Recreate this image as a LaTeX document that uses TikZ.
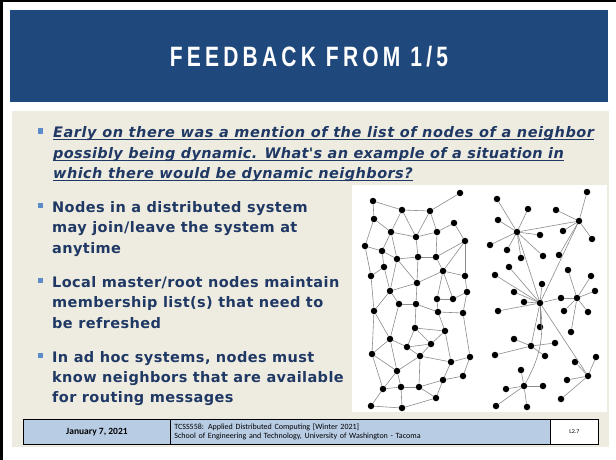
\documentclass[tikz,border=0pt]{standalone}
\usepackage{fontspec}
\setmainfont{Liberation Sans}
\newfontfamily\titlefont{Liberation Sans}[FakeStretch=0.75,LetterSpace=15]
\newfontfamily\bodyfont{DejaVu Sans}[LetterSpace=2.8]
\newfontfamily\askfont{DejaVu Sans}[LetterSpace=3]
\newfontfamily\footfont{Carlito}

\definecolor{banner}{RGB}{31,73,125}
\definecolor{panel}{RGB}{238,236,225}
\definecolor{ink}{RGB}{31,56,100}
\definecolor{bulletblue}{RGB}{91,139,201}
\definecolor{footblue}{RGB}{184,204,228}
\definecolor{edgegray}{RGB}{140,140,140}

\tikzset{
  txt/.style={anchor=base west, inner sep=0pt, text=ink, font=\bodyfont\bfseries\fontsize{14.5}{15}\selectfont},
  ask/.style={txt, font=\askfont\bfseries\itshape\fontsize{14.5}{15}\selectfont},
  uline/.style={ink, line width=1.1pt},
  sq/.style={fill=bulletblue, minimum size=5.5pt, inner sep=0pt},
  netdot/.style={circle, fill=black, inner sep=0pt, minimum size=6.5pt},
  link/.style={edgegray, line width=0.6pt},
  cell/.style={draw=black, line width=0.8pt, inner sep=0pt, anchor=north west, minimum height=25pt}
}

\begin{document}
\begin{tikzpicture}[x=1pt,y=-1pt]
  \useasboundingbox (0,0) rectangle (616,460);
  \fill[white] (0,0) rectangle (616,460);
  % frame edges
  \fill[black] (0,0) rectangle (616,2);
  \fill[black] (0,0) rectangle (3,460);

  % title bar
  \fill[banner] (10,10) rectangle (608,102);
  \node[text=white, font=\titlefont\bfseries\fontsize{28}{28}\selectfont] (title) at (309,57) {FEEDBACK FROM 1/5};

  % body panel
  \fill[panel] (12,111) rectangle (609,447);

  % question
  \node[sq] (s1) at (40.5,131) {};
  \node[ask] (q1) at (53,137) {\addfontfeatures{LetterSpace=3.8}Early on there was a mention of the list of nodes of a neighbor};
  \node[ask] (q2) at (53,158) {\addfontfeatures{LetterSpace=2.3}possibly being dynamic. What's an example of a situation in};
  \node[ask] (q3) at (53,178) {which there would be dynamic neighbors?};
  \foreach \q in {q1,q2,q3}
    \draw[uline] ([yshift=-2.6pt]\q.base west) -- ([yshift=-2.6pt]\q.base east);

  % answers
  \node[sq] (s2) at (40.5,205.5) {};
  \node[txt] (a1) at (52,212) {Nodes in a distributed system};
  \node[txt] (a2) at (52,232.5) {may join/leave the system at};
  \node[txt] (a3) at (52,253) {anytime};

  \node[sq] (s3) at (40.5,280.5) {};
  \node[txt] (b1) at (52,287) {Local master/root nodes maintain};
  \node[txt] (b2) at (52,307.5) {membership list(s) that need to};
  \node[txt] (b3) at (52,328) {be refreshed};

  \node[sq] (s4) at (40.5,355.5) {};
  \node[txt] (c1) at (52,362) {In ad hoc systems, nodes must};
  \node[txt] (c2) at (52,382) {know neighbors that are available};
  \node[txt] (c3) at (52,402) {for routing messages};

  % network picture
  \fill[white] (352,185) rectangle (607,412);

  % mesh on the left
  \foreach \n/\x/\y in {la/373/201, lb/460/193, lc/402/210, ld/430/211, le/374/219,
      lf/454/223, lg/391/232, lh/416/237, li/437/232, lj/465/241, lk/365/246,
      ll/382/251, lm/397/259, ln/418/257, lo/436/257, lp/384/267, lq/443/271,
      lr/371/276, ls/465/276, lt/417/283, lu/390/291, lv/467/292, lw/437/299,
      lx/453/299, ly/399/304, lz/416/304, lA/374/311, lB/438/312, lC/463/313,
      lD/415/328, lE/445/331, lF/390/339, lG/407/347, lH/431/344, lI/372/354,
      lJ/420/356, lK/470/357, lL/451/362, lM/397/371, lN/463/376, lO/443/380,
      lP/383/389, lQ/401/387, lR/419/387, lS/436/398, lT/371/406, lU/402/408}
    \node[netdot] (\n) at (\x,\y) {};
  \foreach \a/\b in {la/lc, la/le, lc/ld, ld/lb, lc/lg, lc/lh, ld/lh, ld/li,
      le/lg, le/lk, lg/lh, lh/li, li/lf, lf/lj, lg/ll, lg/lm, lk/ll, lk/lr,
      ll/lm, ll/lp, lm/ln, lm/lt, lh/ln, ln/lo, li/lo, lo/lj, lj/lq, lj/ls,
      lo/lq, lq/ls, lq/lt, lq/lw, lq/lx, lp/lr, lp/lu, lm/lu, lr/lA, ln/lt,
      lt/lu, ls/lv, lv/lx, lw/lx, lw/lB, lv/lC, lu/ly, lu/lA, ly/lz, lt/lz,
      lA/lF, ly/lF, lz/lD, lz/lB, lB/lC, lB/lE, lD/lE, lD/lG, lD/lH, lH/lE,
      lE/lL, lC/lK, lF/lG, lG/lH, lF/lI, lA/lI, lG/lJ, lH/lJ, lJ/lL, lL/lK,
      lK/lN, lI/lM, lF/lM, lM/lJ, lM/lQ, lM/lP, lI/lP, lP/lQ, lQ/lR, lR/lJ,
      lR/lO, lO/lL, lO/lN, lR/lS, lP/lT, lT/lU, lQ/lU, lU/lS, lS/lO}
    \draw[link] (\a) -- (\b);

  % hubs on the right
  \foreach \n/\x/\y in {ha/517/232, hb/579/221, hc/540/303, hd/577/298,
      he/531/346, hf/524/386, hg/588/376,
      pa1/497/199, pa2/528/209, pa3/498/220, pa4/540/235, pa5/490/245,
      pa6/507/250, pa7/521/258, pa8/543/256,
      pb1/587/192, pb2/556/210, pb3/563/231, pb4/592/239, pb5/559/255,
      pc1/509/267, pc2/495/275, pc3/542/284, pc4/514/292, pc5/524/302,
      pc6/498/311, pc7/540/327, pc8/561/298,
      pd1/568/270, pd2/591/276, pd3/595/291, pd4/564/311, pd5/588/312, pd6/571/332,
      pe1/514/339, pe2/555/343, pe3/545/356, pe4/495/355,
      pf1/521/370, pf2/506/389, pf3/543/386, pf4/496/406, pf5/527/407,
      pg1/596/357, pg2/575/362, pg3/567/380, pg4/561/399}
    \node[netdot] (\n) at (\x,\y) {};
  \foreach \h/\k/\m in {ha/pa/8, hb/pb/5, hc/pc/8, hd/pd/6, he/pe/4, hf/pf/5, hg/pg/4}
    \foreach \i in {1,...,\m}
      \draw[link] (\h) -- (\k\i);
  \foreach \a/\b in {ha/hb, ha/hc, hb/hc, pc8/hd, hc/he, hc/hg}
    \draw[link] (\a) -- (\b);
  \draw[link] (hc) to[bend left=18] (hf);

  % footer
  \node[cell, fill=footblue, minimum width=147pt, font=\footfont\bfseries\fontsize{9.5}{10}\selectfont] (date) at (23,419) {January 7, 2021};
  \node[cell, fill=footblue, minimum width=380pt, text width=372pt, align=left, inner xsep=4pt, font=\footfont\fontsize{8}{9.5}\selectfont] (course) at (170,419) {TCSS558: Applied Distributed Computing [Winter 2021]\\School of Engineering and Technology, University of Washington - Tacoma};
  \node[cell, fill=white, minimum width=48pt, font=\footfont\fontsize{6}{7}\selectfont] (slide) at (550,419) {L2.7};
\end{tikzpicture}
\end{document}
